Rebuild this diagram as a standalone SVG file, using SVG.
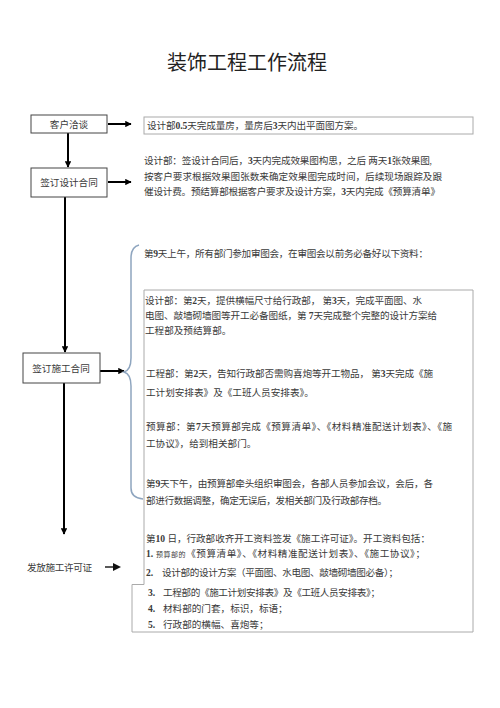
<svg xmlns="http://www.w3.org/2000/svg" width="500" height="708" viewBox="0 0 500 708">
<style>
text{font-family:"Liberation Serif","Noto Sans CJK SC",serif;fill:#3a3a3a;font-size:9.6px}
.t{font-size:20px;fill:#222}
.c{text-anchor:middle}
.d{font-weight:bold}
.s{font-size:7px}
.box{fill:#fff;stroke:#444;stroke-width:1}
.tb{fill:none;stroke:#aaa;stroke-width:1}
.ln{stroke:#000;stroke-width:2;fill:none}
.br{fill:none;stroke:#8ea5bf;stroke-width:1.5}
</style>
<defs>
<marker id="ah" viewBox="0 0 10 10" refX="9" refY="5" markerWidth="3.2" markerHeight="3.2" orient="auto" markerUnits="strokeWidth">
<path d="M0,0L10,5L0,10Z" fill="#000"/>
</marker>
</defs>
<rect width="500" height="708" fill="#fff"/>
<text class="t c" x="247" y="70">装饰工程工作流程</text>

<g id="connectors">
<line class="ln" x1="108" y1="124" x2="131" y2="124" marker-end="url(#ah)"/>
<line class="ln" x1="68" y1="133" x2="68" y2="167" marker-end="url(#ah)"/>
<line class="ln" x1="108" y1="182" x2="131" y2="182" marker-end="url(#ah)"/>
<line class="ln" x1="65" y1="197" x2="65" y2="352" marker-end="url(#ah)"/>
<line class="ln" x1="100" y1="371" x2="124" y2="371" marker-end="url(#ah)"/>
<line class="ln" x1="64" y1="383" x2="64" y2="534" marker-end="url(#ah)"/>
<path d="M105,567 H114" stroke="#222" stroke-width="1.5" fill="none"/>
<path d="M113,563 L121,567 L113,571 Z" fill="#111"/>
<path class="br" d="M139,245 Q131,247 131,258 L131,358 Q131,370 124,372 Q131,374 131,386 L131,488 Q131,498 143,499"/>
</g>

<g id="n1">
<rect class="box" x="31" y="115" width="76" height="18"/>
<text class="c" x="69" y="127.5">客户洽谈</text>
</g>
<g id="n2">
<rect class="box" x="31" y="168" width="76" height="29"/>
<text class="c" x="69" y="185.5">签订设计合同</text>
</g>
<g id="n3">
<rect class="box" x="23" y="353" width="77" height="30"/>
<text class="c" x="61" y="371.5">签订施工合同</text>
</g>
<g id="n4">
<text x="27" y="570.5" textLength="65">发放施工许可证</text>
</g>

<g id="t1">
<rect class="tb" x="144" y="117" width="329" height="17"/>
<text x="147" y="128.5" textLength="216">设计部<tspan class="d">0.5</tspan>天完成量房，量房后<tspan class="d">3</tspan>天内出平面图方案。</text>
</g>

<g id="t2">
<text x="144" y="163.5" textLength="288">设计部：签设计合同后，<tspan class="d">3</tspan>天内完成效果图构思，之后 两天<tspan class="d">1</tspan>张效果图,</text>
<text x="144" y="179.5" textLength="298">按客户要求根据效果图张数来确定效果图完成时间，后续现场跟踪及跟</text>
<text x="144" y="194.5" textLength="296">催设计费。预结算部根据客户要求及设计方案，<tspan class="d">3</tspan>天内完成《预算清单》</text>
</g>

<g id="t3">
<text x="144" y="256.5" textLength="284">第<tspan class="d">9</tspan>天上午，所有部门参加审图会，在审图会以前务必备好以下资料：</text>
</g>

<g id="t4">
<path class="tb" d="M144,290 H473 V632 H132 V584.5 H144 Z"/>
<text x="145" y="303.5" textLength="277">设计部：第<tspan class="d">2</tspan>天，提供横幅尺寸给行政部，  第<tspan class="d">3</tspan>天，完成平面图、水</text>
<text x="145" y="318.5" textLength="292">电图、敲墙砌墙图等开工必备图纸，第 <tspan class="d">7</tspan>天完成整个完整的设计方案给</text>
<text x="145" y="333.5">工程部及预结算部。</text>

<text x="146" y="376.5" textLength="287">工程部：第<tspan class="d">2</tspan>天，告知行政部否需购喜炮等开工物品，  第<tspan class="d">3</tspan>天完成《施</text>
<text x="146" y="395.5">工计划安排表》及《工班人员安排表》。</text>

<text x="146" y="429.5" textLength="306">预算部：第<tspan class="d">7</tspan>天预算部完成《预算清单》、《材料精准配送计划表》、《施</text>
<text x="146" y="446.5">工协议》，给到相关部门。</text>

<text x="146" y="486.5" textLength="287">第<tspan class="d">9</tspan>天下午，由预算部牵头组织审图会，各部人员参加会议，会后，各</text>
<text x="146" y="503.5" textLength="241">部进行数据调整，确定无误后，发相关部门及行政部存档。</text>

<text x="146" y="541.5" textLength="284">第<tspan class="d">10</tspan> 日，行政部收齐开工资料签发《施工许可证》。开工资料包括：</text>
<text class="d" x="146" y="556.5">1.</text>
<text x="156" y="556.5" textLength="269"><tspan class="s">预算部的</tspan>《预算清单》、《材料精准配送计划表》、《施工协议》；</text>
<text class="d" x="146" y="575.5">2.</text>
<text x="162" y="575.5" textLength="236">设计部的设计方案（平面图、水电图、敲墙砌墙图必备）；</text>
<text class="d" x="148" y="595.5">3.</text>
<text x="163" y="595.5" textLength="217">工程部的《施工计划安排表》及《工班人员安排表》；</text>
<text class="d" x="148" y="611.5">4.</text>
<text x="163" y="611.5">材料部的门套，标识，标语；</text>
<text class="d" x="148" y="627.5">5.</text>
<text x="163" y="627.5">行政部的横幅、喜炮等；</text>
</g>
</svg>
